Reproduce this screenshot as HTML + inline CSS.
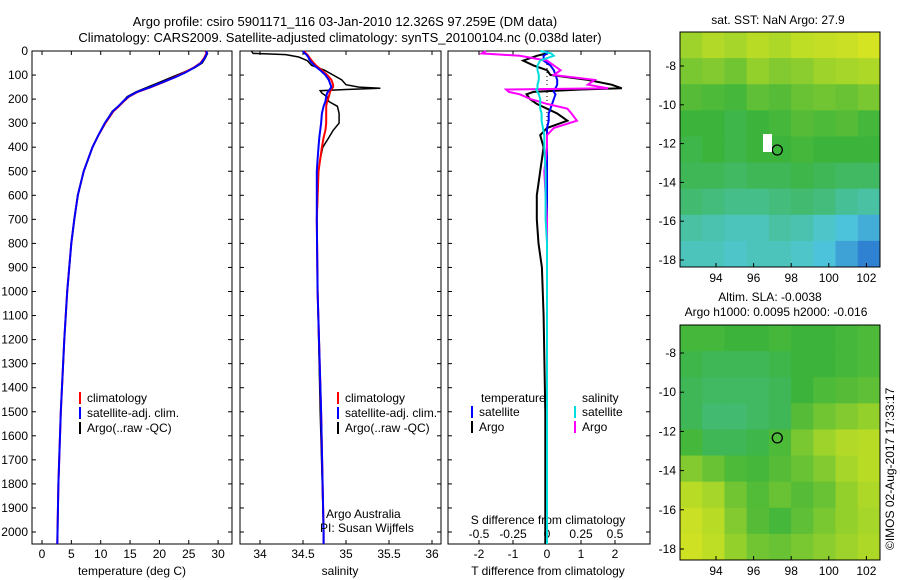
<!DOCTYPE html>
<html><head><meta charset="utf-8"><style>
body{margin:0;background:#fff}
svg{display:block;font-family:"Liberation Sans",sans-serif}
text{font-size:12px;fill:#000}
</style></head><body>
<svg id="c" width="900" height="580" viewBox="0 0 900 580">
<text x="345" y="26" text-anchor="middle" font-size="13" style="font-size:13px">Argo profile: csiro 5901171_116 03-Jan-2010 12.326S 97.259E (DM data)</text>
<text x="340" y="42" text-anchor="middle" style="font-size:13px">Climatology: CARS2009. Satellite-adjusted climatology: synTS_20100104.nc (0.038d later)</text>
<g id="g"></g>
<text x="778" y="24" text-anchor="middle">sat. SST: NaN Argo: 27.9</text>
<text x="770" y="301" text-anchor="middle">Altim. SLA: -0.0038</text>
<text x="776" y="316" text-anchor="middle">Argo h1000: 0.0095 h2000: -0.016</text>
<text transform="translate(894,550) rotate(-90)">©IMOS 02-Aug-2017 17:33:17</text>
</svg>
<script>
const depthTicks=[0,100,200,300,400,500,600,700,800,900,1000,1100,1200,1300,1400,1500,1600,1700,1800,1900,2000];
const tempTicks=[0,5,10,15,20,25,30];
const salTicks=[34,34.5,35,35.5,36];
const tdTicks=[-2,-1,0,1,2];
const sdTickLabels=["-0.5","-0.25","0","0.25","0.5"];
const sdTicks=[-0.5,-0.25,0,0.25,0.5];
const tDepth=[0,10,30,50,70,90,110,130,150,170,190,210,230,250,300,350,400,500,600,700,800,1000,1200,1500,1800,2050];
const tArgo=[27.8,28.2,27.8,27.3,26,24,22,20,18,16,14.5,13.8,13,12,10.7,9.6,8.6,7.1,6.1,5.5,5,4.3,3.8,3.2,2.8,2.6];
const tClim=[27.9,28,27.6,27,25.8,24.2,22.5,20.6,18.6,16.3,14.8,13.9,13.1,12.2,10.8,9.6,8.6,7.1,6.1,5.5,5,4.3,3.8,3.2,2.8,2.6];
const tSat=[28,28.1,27.7,27.1,25.9,24.4,22.6,20.5,18.5,16.2,14.7,13.8,13,12.1,10.7,9.6,8.6,7.1,6.1,5.5,5,4.3,3.8,3.2,2.8,2.6];
const sDepth=[0,10,15,25,40,60,80,100,120,140,150,155,160,165,175,190,210,230,260,300,330,360,400,450,500,700,1000,1500,2000,2050];
const sArgo=[33.9,33.92,34.3,34.45,34.55,34.6,34.75,34.85,34.95,35.0,35.15,35.4,35.0,34.7,34.72,34.78,34.8,34.9,34.92,34.92,34.85,34.8,34.73,34.7,34.68,34.66,34.67,34.7,34.74,34.74];
const sClim=[34.52,34.53,34.55,34.57,34.6,34.65,34.72,34.78,34.83,34.85,34.85,34.84,34.83,34.82,34.81,34.8,34.78,34.77,34.77,34.77,34.76,34.74,34.72,34.7,34.68,34.66,34.67,34.71,34.74,34.74];
const sSat=[34.5,34.52,34.54,34.56,34.58,34.63,34.7,34.76,34.8,34.82,34.83,34.82,34.81,34.8,34.78,34.77,34.76,34.74,34.72,34.71,34.7,34.69,34.68,34.67,34.66,34.66,34.67,34.71,34.74,34.74];
const dDepth=[0,10,20,40,60,80,100,120,140,155,160,170,180,200,220,240,260,290,320,350,400,500,600,700,800,900,1100,1500,2050];
const dTArgo=[0,0,-0.3,-0.7,-0.4,0,0.1,1.2,1.9,2.2,1.0,-0.4,-0.6,-0.5,-0.3,0,0.3,0.6,0,-0.2,-0.1,-0.2,-0.3,-0.3,-0.25,-0.15,-0.1,-0.05,-0.05];
const dTSat=[0,0,-0.1,-0.1,0.1,0.2,0.25,0.3,0.3,0.25,0.2,0.2,0.25,0.2,0.15,0.1,0.05,0.05,0,0,0,0,0,0,0,0,0,0,0];
const dSArgo=[-0.45,-0.48,-0.2,0,0.05,0.1,0.05,0.35,0.3,0.45,-0.3,-0.28,-0.2,-0.12,0.0,0.15,0.18,0.22,0.05,0.0,0.0,-0.02,-0.01,0,0,0,0,0,0];
const dSSat=[-0.05,0.03,0.05,-0.05,-0.07,-0.07,-0.06,-0.06,-0.07,-0.07,-0.08,-0.07,-0.06,-0.05,-0.05,-0.05,-0.04,-0.04,-0.03,-0.02,-0.02,-0.01,-0.01,-0.01,0,0,0,0,0];
const lonTicks=[94,96,98,100,102];
const latTicks=[-8,-10,-12,-14,-16,-18];
const sstGrid=[
[0.72,0.78,0.74,0.8,0.76,0.82,0.84,0.86,0.9],
[0.64,0.66,0.62,0.7,0.66,0.68,0.72,0.74,0.76],
[0.56,0.54,0.52,0.58,0.56,0.6,0.62,0.6,0.64],
[0.5,0.5,0.48,0.5,0.52,0.56,0.54,0.56,0.52],
[0.48,0.5,0.48,0.5,0.5,0.52,0.5,0.5,0.5],
[0.46,0.46,0.44,0.46,0.46,0.48,0.46,0.44,0.44],
[0.42,0.4,0.38,0.38,0.4,0.42,0.4,0.36,0.34],
[0.34,0.32,0.3,0.3,0.34,0.32,0.28,0.24,0.2],
[0.3,0.3,0.28,0.3,0.3,0.28,0.24,0.18,0.12]];
const slaGrid=[
[0.52,0.52,0.5,0.5,0.52,0.5,0.5,0.52,0.54],
[0.48,0.46,0.46,0.46,0.48,0.5,0.5,0.52,0.54],
[0.46,0.44,0.44,0.44,0.46,0.5,0.54,0.56,0.58],
[0.46,0.42,0.42,0.44,0.46,0.56,0.62,0.66,0.7],
[0.52,0.46,0.46,0.48,0.54,0.64,0.72,0.78,0.8],
[0.66,0.6,0.54,0.52,0.56,0.6,0.66,0.74,0.8],
[0.8,0.74,0.62,0.55,0.6,0.56,0.6,0.7,0.76],
[0.86,0.8,0.66,0.56,0.52,0.58,0.64,0.7,0.74],
[0.88,0.82,0.7,0.62,0.6,0.64,0.68,0.72,0.76]];

const NS='http://www.w3.org/2000/svg';
const G=document.getElementById('g');
function el(t,a,p){const e=document.createElementNS(NS,t);for(const k in a)e.setAttribute(k,a[k]);(p||G).appendChild(e);return e;}
function tx(x,y,s,anchor){const e=el('text',{x:x,y:y,'text-anchor':anchor||'middle'});e.textContent=s;return e;}
const yD=d=>51+d*0.2405;
function panel(x0,x1,name){
 const r=el('rect',{x:x0,y:51,width:x1-x0,height:493,fill:'none',stroke:'#000','stroke-width':1});
 
 
}
function line(xs,ds,sx,col,w,name,dash){
 const pts=xs.map((v,i)=>sx(v).toFixed(1)+','+yD(ds[i]).toFixed(1)).join(' ');
 const p=el('polyline',{points:pts,fill:'none',stroke:col,'stroke-width':w});
 if(dash)p.setAttribute('stroke-dasharray',dash);
 
 
}
function xTicks(ticks,labels,sx,y,top){
 ticks.forEach((t,i)=>{el('line',{x1:sx(t),x2:sx(t),y1:544,y2:540,stroke:'#000'});el('line',{x1:sx(t),x2:sx(t),y1:51,y2:55,stroke:'#000'});tx(sx(t),y,labels[i]);});
}
function legend(x,y,items){
 items.forEach((it,i)=>{el('line',{x1:x,x2:x,y1:y+i*15-10,y2:y+i*15+2,stroke:it[1],'stroke-width':2});const t=tx(x+7,y+i*15,it[0],'start');});
}
// panel 1
const sT=v=>42+v*5.87;
panel(32,232,'temperature-panel');
depthTicks.forEach(d=>{el('line',{x1:32,x2:36,y1:yD(d),y2:yD(d),stroke:'#000'});el('line',{x1:228,x2:232,y1:yD(d),y2:yD(d),stroke:'#000'});tx(28,yD(d)+4,String(d),'end');});
xTicks(tempTicks,tempTicks.map(String),sT,558);
tx(132,575,'temperature (deg C)');
line(tArgo,tDepth,sT,'#000',1.5,'temp-argo-line');
line(tClim,tDepth,sT,'#f00',2,'temp-climatology-line');
line(tSat,tDepth,sT,'#00f',2,'temp-satellite-line');
legend(80,402,[['climatology','#f00'],['satellite-adj. clim.','#00f'],['Argo(..raw -QC)','#000']]);
// panel 2
const sS=v=>260+(v-34)*86;
panel(240,441,'salinity-panel');
depthTicks.forEach(d=>{el('line',{x1:240,x2:244,y1:yD(d),y2:yD(d),stroke:'#000'});el('line',{x1:437,x2:441,y1:yD(d),y2:yD(d),stroke:'#000'});});
xTicks(salTicks,salTicks.map(String),sS,558);
tx(340,575,'salinity');
line(sArgo,sDepth,sS,'#000',1.5,'salinity-argo-line');
line(sClim,sDepth,sS,'#f00',2,'salinity-climatology-line');
line(sSat,sDepth,sS,'#00f',2,'salinity-satellite-line');
legend(338,402,[['climatology','#f00'],['satellite-adj. clim.','#00f'],['Argo(..raw -QC)','#000']]);
tx(326,518,'Argo Australia','start');tx(320,532,'PI: Susan Wijffels','start');
// panel 3
const sDT=v=>547+v*34, sDS=v=>547+v*136;
panel(448,650,'difference-panel');
depthTicks.forEach(d=>{el('line',{x1:448,x2:452,y1:yD(d),y2:yD(d),stroke:'#000'});el('line',{x1:646,x2:650,y1:yD(d),y2:yD(d),stroke:'#000'});});
xTicks(tdTicks,tdTicks.map(String),sDT,558);
sdTicks.forEach((t,i)=>tx(sDS(t),538,sdTickLabels[i]));
tx(548,524,'S difference from climatology');
tx(548,575,'T difference from climatology');
el('line',{x1:547,x2:547,y1:60,y2:250,stroke:'#000','stroke-dasharray':'1,3'});
line(dTArgo,dDepth,sDT,'#000',2,'tdiff-argo-line');
line(dTSat,dDepth,sDT,'#00f',2,'tdiff-satellite-line');
line(dSArgo,dDepth,sDS,'#f0f',2,'sdiff-argo-line');
line(dSSat,dDepth,sDS,'#0dd',2,'sdiff-satellite-line');
tx(481,402,'temperature','start');tx(582,402,'salinity','start');
legend(472,416,[['satellite','#00f'],['Argo','#000']]);
legend(575,416,[['satellite','#0dd'],['Argo','#f0f']]);
// maps
function cmap(v){const s=[[0,[16,64,200]],[0.25,[80,200,220]],[0.5,[60,180,60]],[0.75,[170,215,40]],[1,[240,235,30]]];
 for(let i=0;i<4;i++){if(v<=s[i+1][0]){const f=(v-s[i][0])/0.25;const a=s[i][1],b=s[i+1][1];return 'rgb('+a.map((c,k)=>Math.round(c+(b[k]-c)*f)).join(',')+')';}}return 'rgb(240,235,30)';}
function map(y0,grid,name,latY){
 const x0=680,w=200,h=235;
 const sx=l=>716+(l-94)*18.8, sy=latY;
 const g=el('g',{});
 
 
 const cw=w/grid[0].length,ch=h/grid.length;
 grid.forEach((row,r)=>row.forEach((v,c)=>el('rect',{x:x0+c*cw,y:y0+r*ch,width:cw+0.5,height:ch+0.5,fill:cmap(v)},g)));
 el('rect',{x:x0,y:y0,width:w,height:h,fill:'none',stroke:'#000'});
 lonTicks.forEach(l=>{el('line',{x1:sx(l),x2:sx(l),y1:y0+h,y2:y0+h-4,stroke:'#000'});tx(sx(l),y0+h+15,String(l));});
 latTicks.forEach(l=>{el('line',{x1:x0,x2:x0+4,y1:sy(l),y2:sy(l),stroke:'#000'});tx(x0-4,sy(l)+4,String(l),'end');});
 const m=el('circle',{cx:sx(97.26),cy:sy(-12.33),r:5,fill:'none',stroke:'#000','stroke-width':1.3});
 
 
}
map(32,sstGrid,'sst-map',l=>66+(-8-l)*19.4);
el('rect',{x:763,y:134,width:9,height:18,fill:'#fff'});
map(325,slaGrid,'sla-map',l=>353+(-8-l)*19.6);
</script>
</body></html>
